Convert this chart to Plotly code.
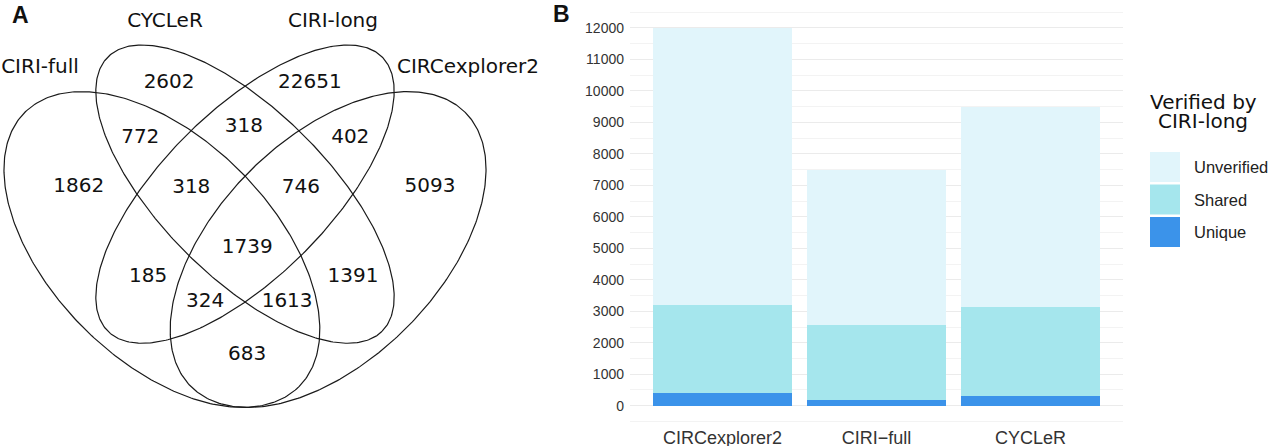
import numpy as np
import plotly.graph_objects as go

# ---------------- Panel A : Venn diagram data ----------------
set_names = ["CIRI-full", "CYCLeR", "CIRI-long", "CIRCexplorer2"]
region_counts = [2602, 22651, 1862, 772, 318, 402, 5093, 318, 746,
                 1739, 185, 1391, 324, 1613, 683]

# anchor positions of the region labels (Venn layout units)
region_u = [0.363, 0.617, 0.200, 0.311, 0.498, 0.690, 0.834, 0.403, 0.601,
            0.504, 0.325, 0.695, 0.428, 0.576, 0.504]
region_v = [0.770, 0.770, 0.583, 0.671, 0.691, 0.671, 0.583, 0.581, 0.581,
            0.473, 0.420, 0.420, 0.375, 0.375, 0.280]

# ellipse layout (4-set quad Venn)
ell_cx = [0.35, 0.50, 0.50, 0.65]
ell_cy = [0.47, 0.57, 0.57, 0.47]
ell_a = [0.35, 0.35, 0.35, 0.35]
ell_b = [0.20, 0.15, 0.15, 0.20]
ell_angle = [-45, -45, 45, 45]

set_label_u = [0.130, 0.3556, 0.6588, 0.9025]
set_label_v = [0.7976, 0.8806, 0.8806, 0.7976]

# ---------------- Panel B : stacked bar data ----------------
tools = ["CIRCexplorer2", "CIRI\u2212full", "CYCLeR"]
unique = [402, 185, 318]
shared = [2809, 2381, 2803]
unverified = [8780, 4930, 6378]
series_names = ["Unique", "Shared", "Unverified"]
series_values = [unique, shared, unverified]
series_colors = ["#3b93ea", "#a5e6ed", "#e1f5fb"]
y_ticks = list(range(0, 12001, 1000))

W, H = 1269, 446
fig = go.Figure()

# ---- Venn ellipses ----
t = np.linspace(0, 2 * np.pi, 400)
for cx, cy, a, b, ang in zip(ell_cx, ell_cy, ell_a, ell_b, ell_angle):
    th = np.deg2rad(ang)
    xs = cx + a * np.cos(t) * np.cos(th) - b * np.sin(t) * np.sin(th)
    ys = cy + a * np.cos(t) * np.sin(th) + b * np.sin(t) * np.cos(th)
    fig.add_trace(go.Scatter(x=xs, y=ys, mode="lines", xaxis="x2", yaxis="y2",
                             line=dict(color="#1a1a1a", width=1.2),
                             hoverinfo="skip", showlegend=False))

fig.add_trace(go.Scatter(x=region_u, y=region_v, mode="text",
                         text=[str(c) for c in region_counts],
                         textfont=dict(family="DejaVu Sans", size=20, color="#111"),
                         xaxis="x2", yaxis="y2", hoverinfo="skip", showlegend=False))
fig.add_trace(go.Scatter(x=set_label_u, y=set_label_v, mode="text",
                         text=set_names,
                         textfont=dict(family="DejaVu Sans", size=20, color="#111"),
                         xaxis="x2", yaxis="y2", hoverinfo="skip", showlegend=False))

# ---- stacked bars ----
for name, vals, col in zip(series_names, series_values, series_colors):
    fig.add_trace(go.Bar(x=tools, y=vals, name=name, marker=dict(color=col, line=dict(width=0)),
                         width=0.9, showlegend=False))

# ---- custom legend ----
shapes = []
annotations = []
legend_order = ["Unverified", "Shared", "Unique"]
key_top = [152, 184.5, 217]
for nm, top in zip(legend_order, key_top):
    col = series_colors[series_names.index(nm)]
    shapes.append(dict(type="rect", xref="paper", yref="paper",
                       x0=1150 / W, x1=1180 / W, y0=1 - (top + 30) / H, y1=1 - top / H,
                       fillcolor=col, line=dict(width=0)))
    annotations.append(dict(text=nm, xref="paper", yref="paper", x=1192 / W, y=1 - (top + 15) / H,
                            xanchor="left", yanchor="middle", showarrow=False,
                            font=dict(family="Liberation Sans", size=16.5, color="#222")))

annotations.append(dict(text="Verified by", xref="paper", yref="paper", x=1203 / W, y=1 - 102 / H,
                        xanchor="center", yanchor="middle", showarrow=False,
                        font=dict(family="DejaVu Sans", size=20, color="#111")))
annotations.append(dict(text="CIRI-long", xref="paper", yref="paper", x=1203 / W, y=1 - 121 / H,
                        xanchor="center", yanchor="middle", showarrow=False,
                        font=dict(family="DejaVu Sans", size=20, color="#111")))

annotations.append(dict(text="<b>A</b>", xref="paper", yref="paper", x=20.5 / W, y=1 - 15 / H,
                        xanchor="center", yanchor="middle", showarrow=False,
                        font=dict(family="Liberation Sans", size=23, color="#111")))
annotations.append(dict(text="<b>B</b>", xref="paper", yref="paper", x=561.5 / W, y=1 - 14 / H,
                        xanchor="center", yanchor="middle", showarrow=False,
                        font=dict(family="Liberation Sans", size=23, color="#111")))

fig.update_layout(
    width=W, height=H, margin=dict(l=0, r=0, t=0, b=0),
    template="none",
    paper_bgcolor="white", plot_bgcolor="rgba(0,0,0,0)",
    barmode="stack", bargap=0.1,
    showlegend=False,
    shapes=shapes, annotations=annotations,
    xaxis=dict(domain=[630 / W, 1123 / W], range=[-0.6, 2.6], type="category",
               showgrid=False, zeroline=False, showline=False, ticks="",
               tickfont=dict(family="Liberation Sans", size=18, color="#333"),
               anchor="y"),
    yaxis=dict(domain=[1 - 424.6 / H, 1 - 9.1 / H], range=[-600, 12600],
               tickvals=y_ticks, ticktext=[str(v) for v in y_ticks],
               showgrid=True, gridcolor="#ebebeb", gridwidth=1,
               minor=dict(tickvals=[v + 500 for v in [-1000] + y_ticks], showgrid=True,
                          gridcolor="#f3f3f3", gridwidth=1),
               zeroline=False, showline=False, ticks="", ticklabelstandoff=5,
               tickfont=dict(family="Liberation Sans", size=14, color="#333"),
               anchor="x"),
    xaxis2=dict(domain=[0, 0.46], range=[0.0578, 1.1114], visible=False, anchor="y2"),
    yaxis2=dict(domain=[0, 1], range=[0.1153, 0.9204], visible=False, anchor="x2"),
)

fig.write_html("out.html", config={"displayModeBar": False},
               post_script="document.body.style.margin='0';document.body.style.overflow='hidden';")
